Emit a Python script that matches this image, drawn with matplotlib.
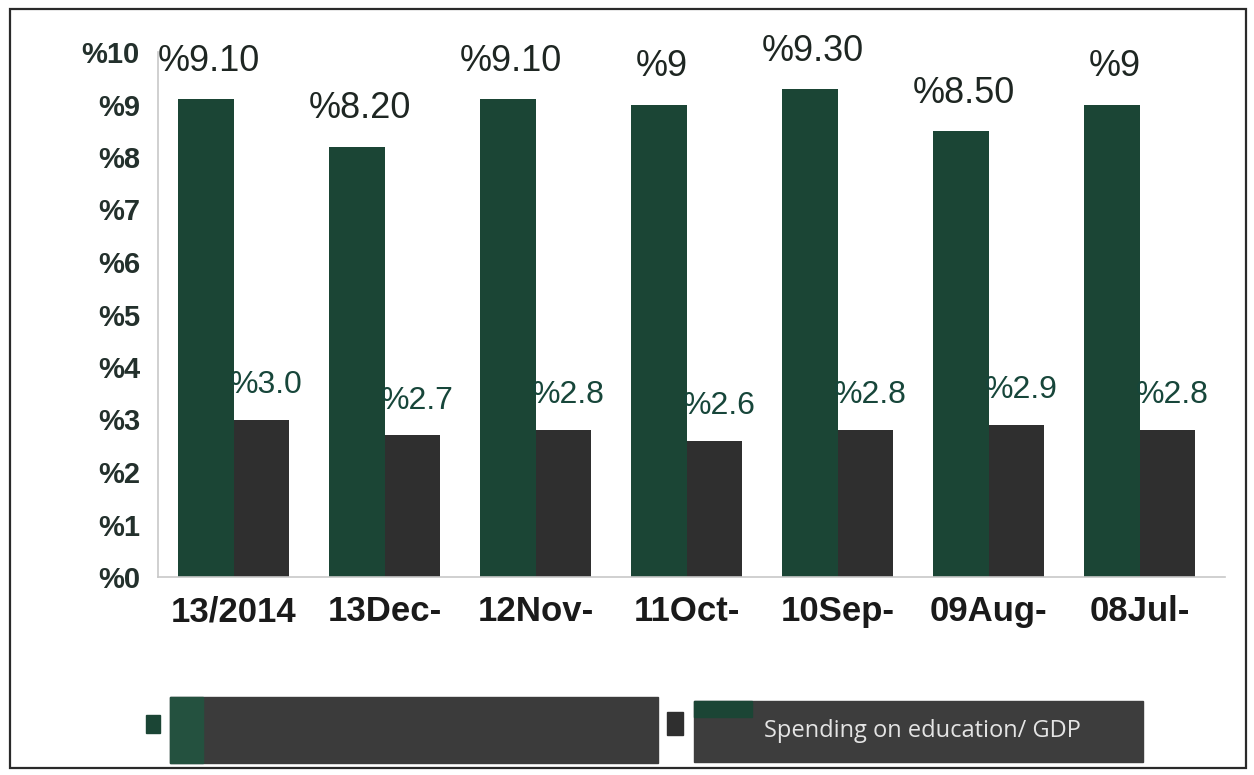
import matplotlib
matplotlib.use("Agg")
import matplotlib.pyplot as plt
from matplotlib.patches import Rectangle
import numpy as np

# periods (as printed on the axis) and the two series, in %
periods = ["13/2014", "13Dec-", "12Nov-", "11Oct-", "10Sep-", "09Aug-", "08Jul-"]
first_series = [9.1, 8.2, 9.1, 9.0, 9.3, 8.5, 9.0]
education_gdp = [3.0, 2.7, 2.8, 2.6, 2.8, 2.9, 2.8]
series_names = ["", "Spending on education/ GDP"]
y_ticks = [0, 1, 2, 3, 4, 5, 6, 7, 8, 9, 10]

GREEN = "#1b4535"
DARK = "#2f2f2f"
TEXT = "#1e2622"

plt.rcParams["font.family"] = ["Liberation Sans", "DejaVu Sans"]

W, H = 1254, 775
fig = plt.figure(figsize=(W / 100, H / 100), dpi=100)
fig.patch.set_facecolor("white")


def frac(x0, y0, x1, y1):
    # pixel box (top-left origin) -> figure fraction [l, b, w, h]
    return [x0 / W, 1 - y1 / H, (x1 - x0) / W, (y1 - y0) / H]


ax = fig.add_axes(frac(158, 52, 1225, 577))
x = np.arange(len(periods))
w = 0.365

b1 = ax.bar(x - w / 2, first_series, w, color=GREEN, zorder=2)
b2 = ax.bar(x + w / 2, education_gdp, w, color=DARK, zorder=2)


def fmt_first(v):
    return "%%%d" % v if float(v).is_integer() else "%%%.2f" % v


for rect, v in zip(b1, first_series):
    ax.annotate(fmt_first(v), (rect.get_x() + rect.get_width() / 2, v),
                xytext=(2, 27), textcoords="offset points",
                ha="center", va="center", fontsize=26, color=TEXT)
for rect, v in zip(b2, education_gdp):
    ax.annotate("%%%.1f" % v, (rect.get_x() + rect.get_width() / 2, v),
                xytext=(4, 25), textcoords="offset points",
                ha="center", va="center", fontsize=23, color="#17463a")

ax.set_xlim(-0.5, 6.566)
ax.set_ylim(0, 10)
ax.set_xticks(x)
ax.set_xticklabels(periods, fontsize=25, fontweight="bold", color="#1a1a1a")
ax.set_yticks(y_ticks)
ax.set_yticklabels(["%%%d" % t for t in y_ticks], fontsize=21,
                   fontweight="bold", color="#23302c")
ax.tick_params(axis="both", length=0)
ax.tick_params(axis="x", pad=13)
ax.tick_params(axis="y", pad=13)
for side in ["top", "right"]:
    ax.spines[side].set_visible(False)
for side in ["left", "bottom"]:
    ax.spines[side].set_color("#c8c8c8")
    ax.spines[side].set_linewidth(1.2)

# overlay in pixel coordinates for the frame and the legend boxes
ov = fig.add_axes([0, 0, 1, 1], zorder=5)
ov.set_xlim(0, W)
ov.set_ylim(H, 0)
ov.axis("off")
ov.patch.set_alpha(0)

ov.add_patch(Rectangle((10, 9), 1236, 759, fill=False, edgecolor="#2a2a2a", lw=1.6))

# legend: first entry
ov.add_patch(Rectangle((146, 715), 14, 18, color=GREEN))
ov.add_patch(Rectangle((170, 697), 488, 66, color="#3b3b3b"))
ov.add_patch(Rectangle((170, 697), 33, 66, color="#24513f"))
ov.text(430, 730, series_names[0], ha="center", va="center", fontsize=17, color="#e6e6e6")

# legend: second entry
ov.add_patch(Rectangle((667, 712), 16, 23, color=DARK))
ov.add_patch(Rectangle((694, 701), 449, 61, color="#3d3d3d"))
ov.add_patch(Rectangle((694, 701), 58, 16, color="#1b4535"))
ov.text(922, 731, series_names[1], ha="center", va="center", fontsize=17,
        color="#e4e4e4", family="Open Sans")

fig.savefig("out.png", dpi=100)
